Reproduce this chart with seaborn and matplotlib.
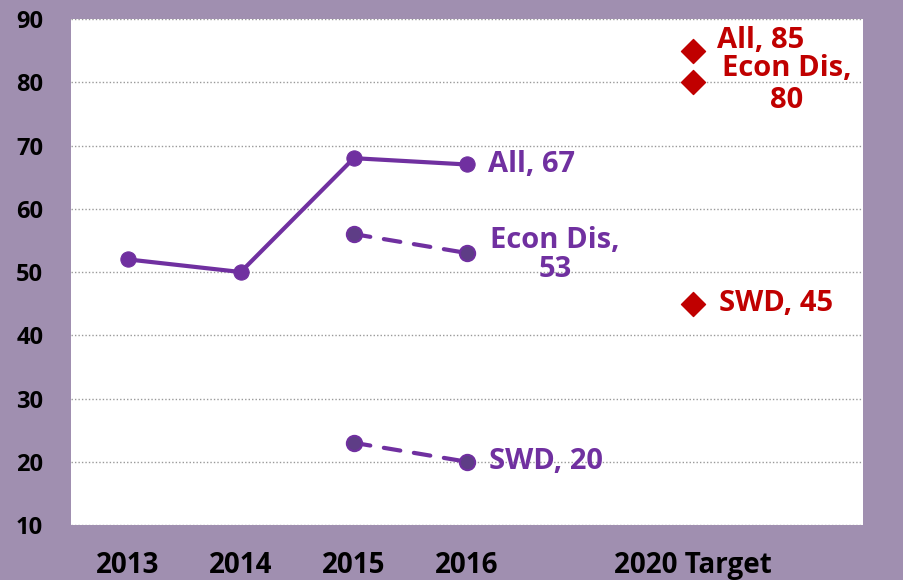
import matplotlib
matplotlib.use("Agg")
import matplotlib.pyplot as plt
import seaborn as sns
import pandas as pd

# categories on the x axis (blank slots keep the original spacing)
categories = ["2013", "2014", "2015", "2016", "", "2020 Target", ""]

all_years = ["2013", "2014", "2015", "2016"]
all_values = [52, 50, 68, 67]

sub_years = ["2015", "2016"]
econ_values = [56, 53]
swd_values = [23, 20]

target_labels = ["All", "Econ Dis", "SWD"]
target_values = [85, 80, 45]

PURPLE = "#7030A0"
DARK = "#5E3D86"
RED = "#C00000"
BG = "#A08FB0"

sns.set_style("white")
plt.rcParams["font.family"] = ["Open Sans", "DejaVu Sans"]
plt.rcParams["font.weight"] = "bold"
plt.rcParams["text.color"] = "black"
plt.rcParams["xtick.color"] = "black"
plt.rcParams["ytick.color"] = "black"

pos = {c: i for i, c in enumerate(categories) if c}

fig = plt.figure(figsize=(9.04, 5.8), dpi=100, facecolor=BG)
ax = fig.add_axes([0.0785, 0.0948, 0.8762, 0.8724])
ax.set_facecolor("white")

df_all = pd.DataFrame({"x": [pos[y] for y in all_years], "y": all_values})
sns.lineplot(data=df_all, x="x", y="y", ax=ax, color=PURPLE, linewidth=3,
             marker="o", markersize=11, markerfacecolor=PURPLE,
             markeredgecolor=PURPLE, zorder=3)

for vals in (econ_values, swd_values):
    d = pd.DataFrame({"x": [pos[y] for y in sub_years], "y": vals})
    sns.lineplot(data=d, x="x", y="y", ax=ax, color=PURPLE, linewidth=3,
                 linestyle=(0, (4, 3.3)), dash_capstyle="round",
                 marker="o", markersize=11, markerfacecolor=DARK,
                 markeredgecolor=PURPLE, markeredgewidth=1.5, zorder=3)

df_t = pd.DataFrame({"x": [pos["2020 Target"]] * 3, "y": target_values})
sns.scatterplot(data=df_t, x="x", y="y", ax=ax, color=RED, marker="D",
                s=150, edgecolor=RED, zorder=3)

# labels for the series
fs = 21
x16 = pos["2016"]
ax.annotate(f"All, {all_values[-1]}", (x16, all_values[-1]), xytext=(21, 0),
            textcoords="offset pixels", color=PURPLE, fontsize=fs,
            fontweight="bold", va="center", ha="left")
ax.annotate(f"Econ Dis,\n{econ_values[-1]}", (x16, econ_values[-1]), xytext=(88, -2),
            textcoords="offset pixels", color=PURPLE, fontsize=fs,
            fontweight="bold", va="center", ha="center", linespacing=1.0)
ax.annotate(f"SWD, {swd_values[-1]}", (x16, swd_values[-1]), xytext=(22, 0),
            textcoords="offset pixels", color=PURPLE, fontsize=fs,
            fontweight="bold", va="center", ha="left")

xt = pos["2020 Target"]
ax.annotate(f"{target_labels[0]}, {target_values[0]}", (xt, target_values[0]),
            xytext=(24, 10), textcoords="offset pixels", color=RED, fontsize=fs,
            fontweight="bold", va="center", ha="left")
ax.annotate(f"{target_labels[1]},\n{target_values[1]}", (xt, target_values[1]),
            xytext=(93, -2), textcoords="offset pixels", color=RED, fontsize=fs,
            fontweight="bold", va="center", ha="center", linespacing=1.15)
ax.annotate(f"{target_labels[2]}, {target_values[2]}", (xt, target_values[2]),
            xytext=(26, 0), textcoords="offset pixels", color=RED, fontsize=fs,
            fontweight="bold", va="center", ha="left")

ax.set_xlim(-0.5, len(categories) - 0.5)
ax.set_ylim(10, 90)
ax.set_yticks(range(10, 91, 10))
ax.set_xticks(range(len(categories)))
ax.set_xticklabels(categories, fontsize=20, fontweight="bold")
ax.tick_params(axis="y", labelsize=17, pad=20, length=0)
ax.tick_params(axis="x", pad=19, length=0)
for lab in ax.get_yticklabels():
    lab.set_fontweight("bold")
ax.set_xlabel("")
ax.set_ylabel("")

ax.grid(axis="y", color="#999999", linestyle=(0, (1, 1.5)), linewidth=1)
ax.grid(axis="x", visible=False)
for side in ["left", "right", "top", "bottom"]:
    ax.spines[side].set_visible(False)

fig.savefig("out.png", dpi=100, facecolor=BG)
